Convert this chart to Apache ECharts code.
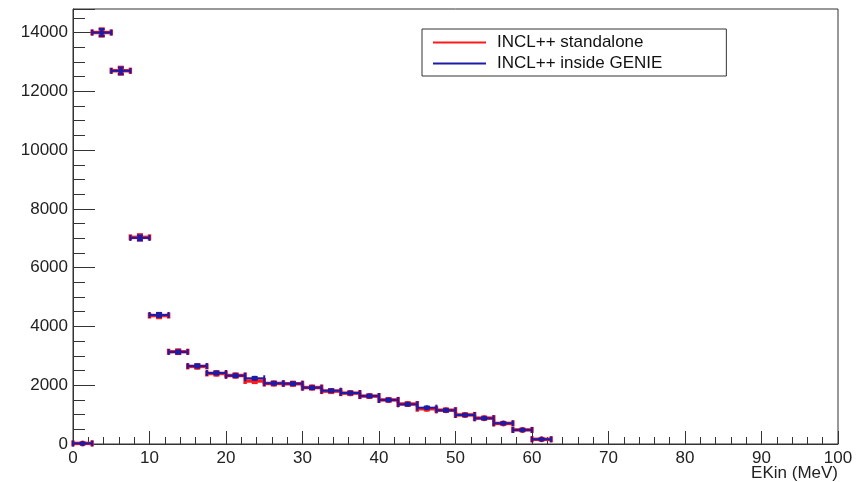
<!DOCTYPE html>
<html>
<head>
<meta charset="utf-8">
<script src="https://cdn.jsdelivr.net/npm/echarts@6/dist/echarts.min.js"></script>
<style>
  html, body { margin: 0; padding: 0; background: #fff; }
  #chart { width: 867px; height: 482px; }
</style>
</head>
<body>
<div id="chart"></div>
<script>
// bin low edges (MeV), width 2.5
const binLow = [0, 2.5, 5, 7.5, 10, 12.5, 15, 17.5, 20, 22.5, 25, 27.5, 30,
                32.5, 35, 37.5, 40, 42.5, 45, 47.5, 50, 52.5, 55, 57.5, 60];
const binWidth = 2.5;

// INCL++ standalone
const standaloneCounts = [20, 14000, 12700, 7030, 4370, 3140, 2640, 2400, 2330, 2144, 2060, 2050, 1920,
                          1800, 1730, 1630, 1500, 1360, 1200, 1150, 990, 880, 700, 480, 160];
// INCL++ inside GENIE
const genieCounts = [20, 14000, 12696, 7012, 4391, 3131, 2655, 2417, 2325, 2236, 2066, 2052, 1916,
                     1814, 1736, 1634, 1498, 1351, 1236, 1147, 987, 875, 705, 476, 160];
// statistical errors (approx.)
const countErrors = [4, 118, 113, 84, 66, 56, 52, 49, 48, 47, 45, 45, 44,
                     43, 42, 40, 39, 37, 35, 34, 31, 30, 27, 22, 13];

const yTicks = [0, 2000, 4000, 6000, 8000, 10000, 12000, 14000];

const FONT = 'Liberation Sans, Arial, Helvetica, sans-serif';

function toData(counts) {
    return counts.map((v, i) => [binLow[i], v, countErrors[i]]);
}

// draws one histogram bin as ROOT "E1" style: horizontal bar with end caps, vertical error bar, marker
function makeRender(color, lw, cap, markerSize) {
    return function (params, api) {
        const lo = api.value(0);
        const v = api.value(1);
        const err = api.value(2);
        const hi = lo + binWidth;
        const mid = lo + binWidth / 2;
        const pL = api.coord([lo, v]);
        const pR = api.coord([hi, v]);
        const pT = api.coord([mid, v + err]);
        const pB = api.coord([mid, v - err]);
        const style = { stroke: color, lineWidth: lw, fill: null };
        const children = [
            { type: 'line', shape: { x1: pL[0], y1: pL[1], x2: pR[0], y2: pR[1] }, style: style },
            { type: 'line', shape: { x1: pL[0], y1: pL[1] - cap, x2: pL[0], y2: pL[1] + cap }, style: style },
            { type: 'line', shape: { x1: pR[0], y1: pR[1] - cap, x2: pR[0], y2: pR[1] + cap }, style: style },
            { type: 'line', shape: { x1: pT[0], y1: pT[1], x2: pB[0], y2: pB[1] }, style: style },
            { type: 'line', shape: { x1: pT[0] - cap, y1: pT[1], x2: pT[0] + cap, y2: pT[1] }, style: style },
            { type: 'line', shape: { x1: pB[0] - cap, y1: pB[1], x2: pB[0] + cap, y2: pB[1] }, style: style },
            {
                type: 'circle',
                shape: { cx: pL[0] + (pR[0] - pL[0]) / 2, cy: pL[1], r: markerSize / 2 },
                style: { fill: color }
            }
        ];
        return { type: 'group', children: children };
    };
}

const chart = echarts.init(document.getElementById('chart'));

const option = {
    animation: false,
    backgroundColor: '#fff',
    grid: {
        left: 73, right: 29, top: 9, bottom: 38,
        show: true, borderColor: '#333', borderWidth: 1
    },
    legend: {
        orient: 'vertical',
        left: 422, top: 29,
        padding: [5, 64, 4, 11],
        itemWidth: 53, itemHeight: 2, itemGap: 4,
        borderColor: '#333', borderWidth: 1,
        textStyle: { fontFamily: FONT, fontSize: 17, color: '#111', padding: [0, 0, 0, 6] },
        data: [
            { name: 'INCL++ standalone', icon: 'rect' },
            { name: 'INCL++ inside GENIE', icon: 'rect' }
        ]
    },
    xAxis: {
        type: 'value',
        min: 0, max: 100, interval: 10,
        axisLine: { lineStyle: { color: '#333', width: 1 } },
        axisTick: { inside: true, length: 13, lineStyle: { color: '#333' } },
        minorTick: { show: true, splitNumber: 5, length: 7, lineStyle: { color: '#333' } },
        splitLine: { show: false },
        axisLabel: { fontFamily: FONT, fontSize: 17, color: '#222', margin: 6 }
    },
    yAxis: {
        type: 'value',
        min: 0, max: 14800, interval: 2000,
        axisLine: { show: true, lineStyle: { color: '#333', width: 1 } },
        axisTick: { show: true, inside: true, length: 22, lineStyle: { color: '#333' } },
        minorTick: { show: true, splitNumber: 4, length: 12, lineStyle: { color: '#333' } },
        splitLine: { show: false },
        axisLabel: {
            fontFamily: FONT, fontSize: 17, color: '#222', margin: 5,
            showMaxLabel: false,
            formatter: v => (yTicks.indexOf(v) >= 0 ? String(v) : '')
        }
    },
    graphic: [{
        type: 'text',
        right: 29, top: 465,
        style: { text: 'EKin (MeV)', font: '17px ' + FONT, fill: '#222' }
    }],
    series: [
        {
            name: 'INCL++ standalone',
            type: 'custom',
            itemStyle: { color: '#ff1a1a' },
            renderItem: makeRender('#ff1a1a', 3.5, 3, 6),
            encode: { x: 0, y: 1 },
            data: toData(standaloneCounts),
            z: 2
        },
        {
            name: 'INCL++ inside GENIE',
            type: 'custom',
            itemStyle: { color: '#1c1ca8' },
            renderItem: makeRender('#1c1ca8', 2, 3, 5),
            encode: { x: 0, y: 1 },
            data: toData(genieCounts),
            z: 3
        }
    ]
};

chart.setOption(option);
</script>
</body>
</html>
